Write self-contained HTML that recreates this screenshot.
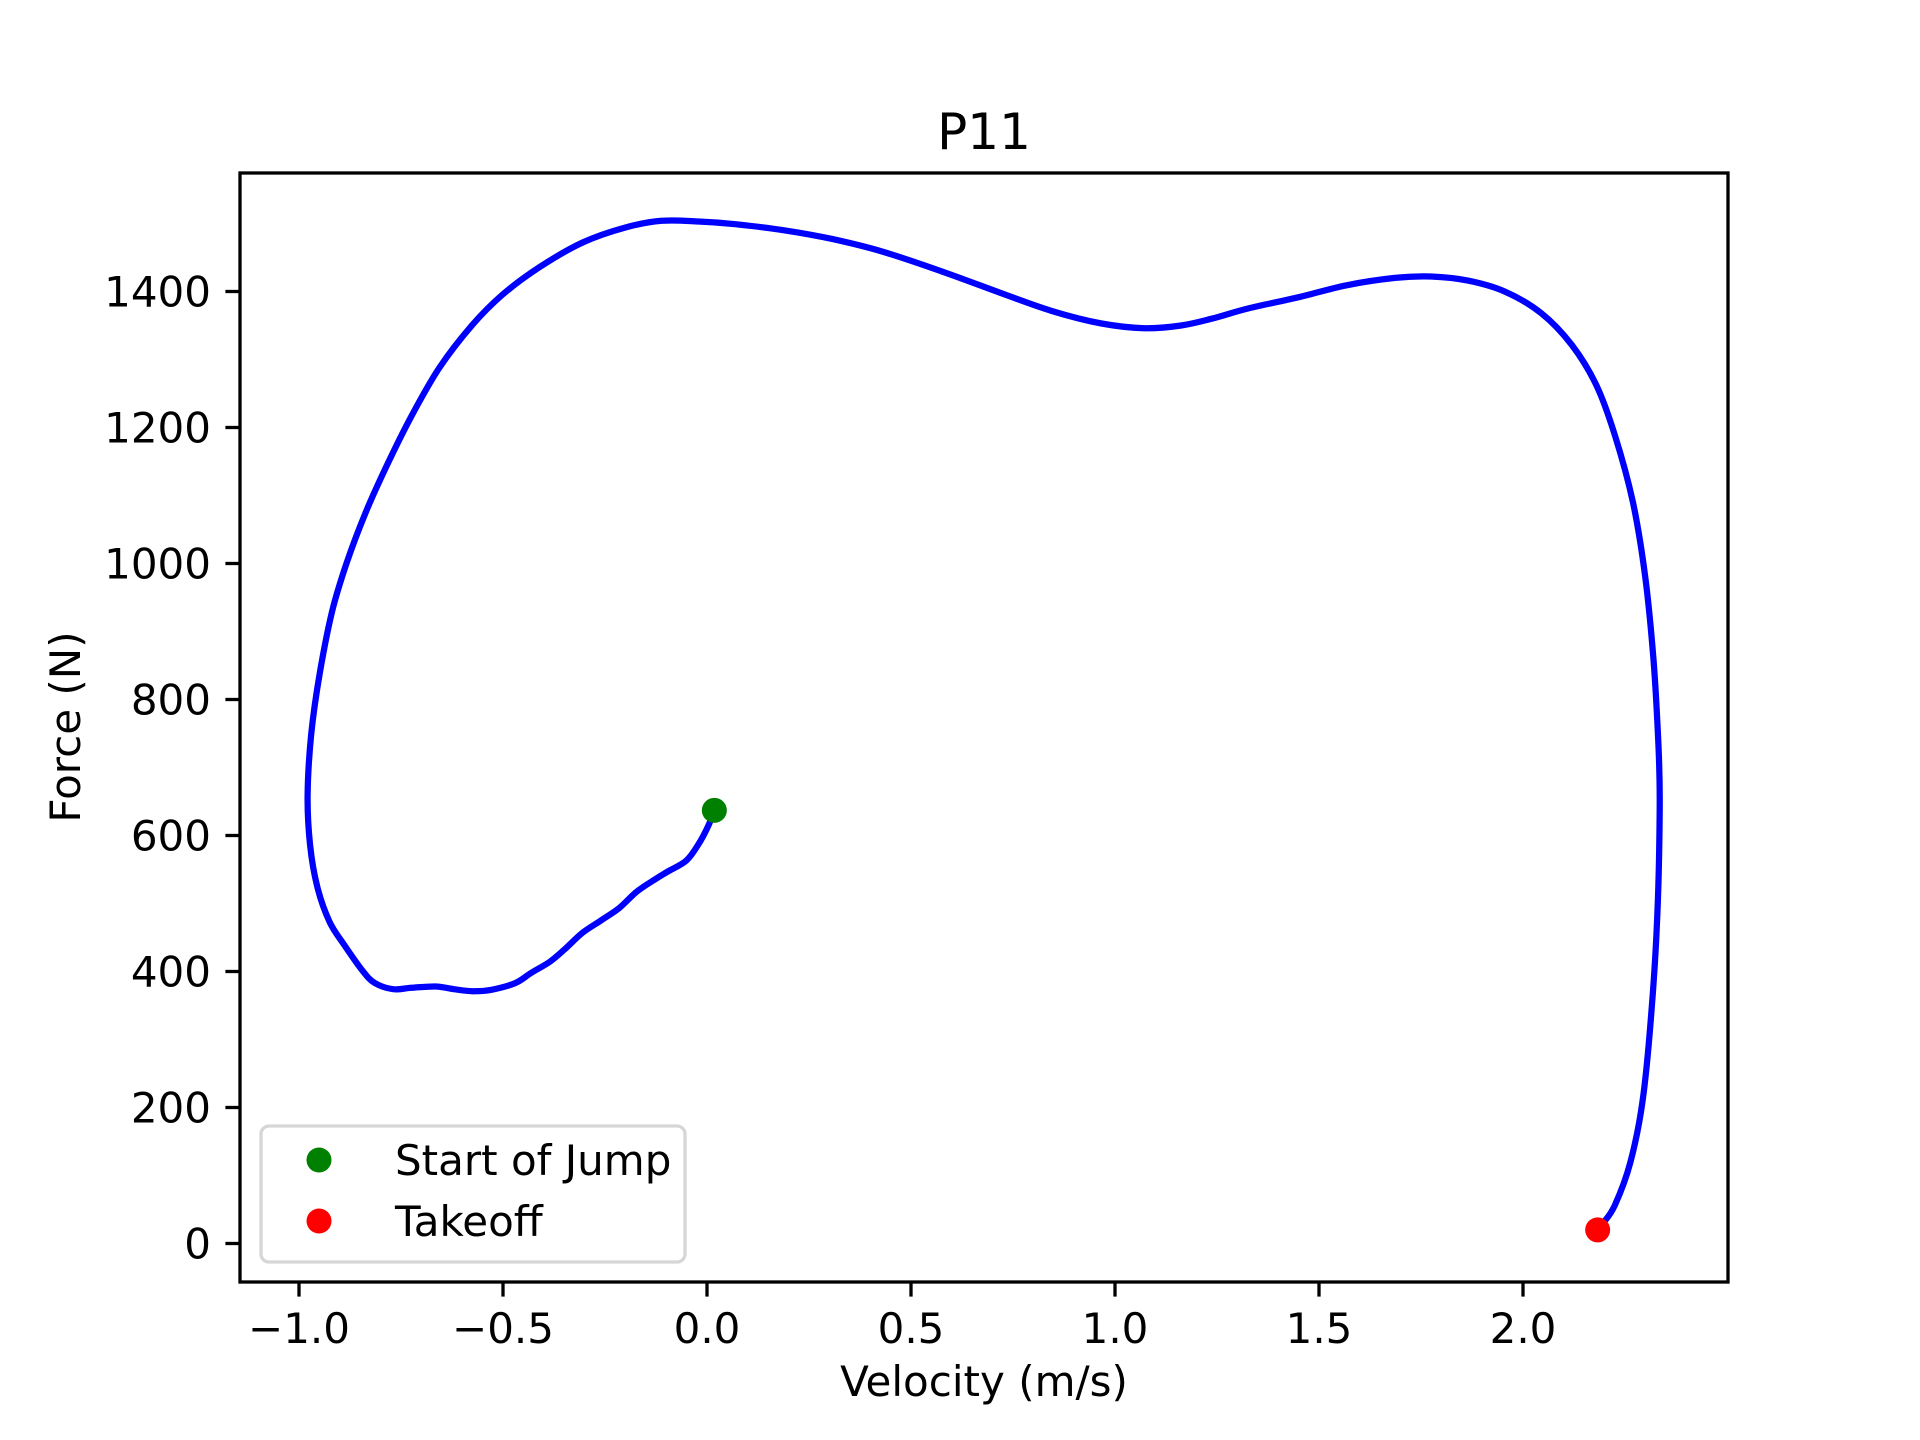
<!DOCTYPE html>
<html><head><meta charset="utf-8"><style>
html,body{margin:0;padding:0;background:#fff}
svg{display:block;font-family:"DejaVu Sans","Liberation Sans",sans-serif}
</style></head><body>
<svg id="chart" width="1920" height="1440" viewBox="0 0 1920 1440" xmlns="http://www.w3.org/2000/svg">
<rect width="1920" height="1440" fill="#fff"/>
<text x="984" y="149" font-size="50" text-anchor="middle">P11</text>
<g id="plot"></g>
<g id="axes"></g>
<text x="984" y="1396" font-size="42" text-anchor="middle">Velocity (m/s)</text>
<text x="80" y="727" font-size="42" text-anchor="middle" transform="rotate(-90 80 727)">Force (N)</text>
<g>
<rect x="261" y="1126" width="424" height="136" rx="8" fill="#fff" fill-opacity="0.8" stroke="#d6d6d6" stroke-width="3.3"/>
<circle cx="319" cy="1160" r="12.5" fill="green"/>
<text x="395" y="1175" font-size="42">Start of Jump</text>
<circle cx="319" cy="1221" r="12.5" fill="red"/>
<text x="395" y="1236" font-size="42">Takeoff</text>
</g>
</svg>
<script>
const velocity = [0.018,0.003,-0.021,-0.051,-0.096,-0.126,-0.171,-0.216,-0.260,-0.305,-0.350,-0.386,-0.431,-0.470,-0.530,-0.575,-0.620,-0.665,-0.725,-0.769,-0.814,-0.844,-0.889,-0.925,-0.955,-0.973,-0.979,-0.970,-0.949,-0.919,-0.883,-0.838,-0.784,-0.725,-0.656,-0.575,-0.500,-0.410,-0.305,-0.201,-0.111,-0.021,0.069,0.189,0.308,0.428,0.578,0.728,0.847,0.967,1.072,1.162,1.237,1.326,1.446,1.566,1.686,1.775,1.865,1.955,2.045,2.120,2.180,2.225,2.269,2.299,2.320,2.332,2.335,2.329,2.314,2.293,2.263,2.225,2.195,2.183];
const force = [637,614,587,563,547,536,518,493,475,457,432,414,398,383,373,371,374,378,376,374,383,401,439,473,524,587,659,749,839,929,1001,1073,1145,1216,1288,1351,1396,1436,1472,1494,1504,1503,1499,1490,1477,1459,1429,1396,1371,1353,1346,1350,1360,1375,1391,1409,1420,1422,1416,1400,1368,1321,1262,1189,1091,983,857,731,641,479,335,209,119,56,29,20];
const startPoint = [0.018, 637];
const takeoffPoint = [2.183, 20];
const xTicks = [-1.0,-0.5,0.0,0.5,1.0,1.5,2.0];
const xTickLabels = ["\u22121.0","\u22120.5","0.0","0.5","1.0","1.5","2.0"];
const yTicks = [0,200,400,600,800,1000,1200,1400];
const yTickLabels = ["0","200","400","600","800","1000","1200","1400"];

const L=240,R=1728,T=173,B=1282;
const X0=707, XS=408, Y0=1243.5, YS=0.68;
const sx=v=>X0+v*XS, sy=v=>Y0-v*YS;
const NS="http://www.w3.org/2000/svg";
const plot=document.getElementById('plot'), axes=document.getElementById('axes');
function mk(tag,attrs,parent){const e=document.createElementNS(NS,tag);for(const k in attrs)e.setAttribute(k,attrs[k]);parent.appendChild(e);return e;}

const P=velocity.map((v,i)=>[sx(v),sy(force[i])]);
let d='M'+P[0][0].toFixed(1)+' '+P[0][1].toFixed(1);
for(let i=0;i<P.length-1;i++){
  const p0=P[Math.max(0,i-1)],p1=P[i],p2=P[i+1],p3=P[Math.min(P.length-1,i+2)];
  const c1=[p1[0]+(p2[0]-p0[0])/6,p1[1]+(p2[1]-p0[1])/6];
  const c2=[p2[0]-(p3[0]-p1[0])/6,p2[1]-(p3[1]-p1[1])/6];
  d+='C'+c1[0].toFixed(1)+' '+c1[1].toFixed(1)+' '+c2[0].toFixed(1)+' '+c2[1].toFixed(1)+' '+p2[0].toFixed(1)+' '+p2[1].toFixed(1);
}
const line=mk('path',{d:d,fill:'none',stroke:'blue','stroke-width':6.25,'stroke-linejoin':'round','stroke-linecap':'square'},plot);


const s=mk('circle',{cx:sx(startPoint[0]),cy:sy(startPoint[1]),r:12.5,fill:'green'},plot);


const t=mk('circle',{cx:sx(takeoffPoint[0]),cy:sy(takeoffPoint[1]),r:12.5,fill:'red'},plot);



const frame=mk('rect',{x:L,y:T,width:R-L,height:B-T,fill:'none',stroke:'#000','stroke-width':3.3},axes);


xTicks.forEach((v,i)=>{
  const x=sx(v);
  const tk=mk('line',{x1:x,x2:x,y1:B,y2:B+14.6,stroke:'#000','stroke-width':3.3},axes);
  
  
  const lb=mk('text',{x:x,y:1343,'font-size':42,'text-anchor':'middle'},axes);
  lb.textContent=xTickLabels[i];
  
  
});
yTicks.forEach((v,i)=>{
  const y=sy(v);
  const tk=mk('line',{x1:L-14.6,x2:L,y1:y,y2:y,stroke:'#000','stroke-width':3.3},axes);
  
  
  const lb=mk('text',{x:211,y:y+15,'font-size':42,'text-anchor':'end'},axes);
  lb.textContent=yTickLabels[i];
  
  
});
</script>
</body></html>
